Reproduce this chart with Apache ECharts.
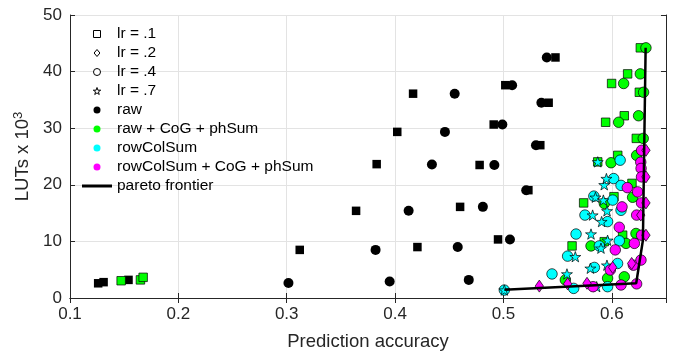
<!DOCTYPE html>
<html>
<head>
<meta charset="utf-8">
<script src="https://cdn.jsdelivr.net/npm/echarts@6/dist/echarts.min.js"></script>
<style>
  html, body { margin: 0; padding: 0; background: #fff; }
  #chart { width: 681px; height: 360px; }
</style>
</head>
<body>
<div id="chart"></div>
<script>
// accuracy vs LUTs, one array per feature set / learning rate

const rawSquare = [[0.126, 2.6], [0.131, 2.8], [0.154, 3.2], [0.312, 8.5], [0.364, 15.4], [0.383, 23.65], [0.402, 29.35], [0.4166, 36.1], [0.4206, 9.0], [0.460, 16.1], [0.478, 23.5], [0.491, 30.65], [0.495, 10.35], [0.5017, 37.6], [0.523, 19.05], [0.534, 27.0], [0.5417, 34.5], [0.548, 42.5]];
const rawCircle = [[0.3016, 2.65], [0.382, 8.5], [0.395, 2.9], [0.4125, 15.4], [0.434, 23.6], [0.446, 29.35], [0.455, 36.1], [0.4578, 9.0], [0.468, 3.2], [0.481, 16.1], [0.4916, 23.5], [0.499, 30.65], [0.506, 10.35], [0.508, 37.6], [0.521, 19.05], [0.530, 27.0], [0.535, 34.5], [0.540, 42.5]];

const cogSquare = [[0.1472, 3.05], [0.165, 3.2], [0.1675, 3.65], [0.5633, 9.2], [0.574, 16.8], [0.587, 24.05], [0.593, 9.95], [0.5943, 31.05], [0.5998, 37.9], [0.602, 17.9], [0.6055, 25.2], [0.610, 11.1], [0.6115, 32.2], [0.6146, 39.6], [0.6186, 20.25], [0.6226, 28.2], [0.6254, 36.35], [0.6263, 44.2]];
const cogCircle = [[0.5571, 3.2], [0.5808, 9.2], [0.5931, 16.7], [0.5961, 3.5], [0.5993, 23.9], [0.6063, 31.05], [0.6109, 37.9], [0.6115, 3.75], [0.6131, 9.65], [0.6192, 17.8], [0.6223, 11.4], [0.6229, 25.2], [0.6247, 32.2], [0.6263, 39.6], [0.629, 28.2], [0.6293, 36.35], [0.6315, 44.2]];

const rcsCircle = [[0.5008, 1.4], [0.5448, 4.25], [0.5592, 7.4], [0.5648, 1.7], [0.567, 11.3], [0.5752, 14.65], [0.5834, 18.0], [0.5839, 5.4], [0.5885, 9.2], [0.5961, 13.5], [0.5961, 2.0], [0.6008, 17.3], [0.6017, 21.1], [0.6053, 6.1], [0.6069, 10.1], [0.6077, 24.35], [0.6085, 19.9], [0.6085, 15.5]];
const rcsStar = [[0.5008, 1.4], [0.5586, 4.25], [0.5663, 7.3], [0.5802, 5.25], [0.5808, 11.3], [0.5823, 14.65], [0.5849, 17.8], [0.586, 2.0], [0.587, 24.05], [0.590, 8.8], [0.5906, 13.5], [0.5922, 17.3], [0.593, 20.0], [0.595, 21.1], [0.5955, 5.8], [0.5956, 15.4], [0.5961, 10.2]];

const allCircle = [[0.5827, 2.0], [0.5986, 4.95], [0.6032, 8.5], [0.6069, 12.5], [0.6085, 2.3], [0.6094, 16.1], [0.6143, 19.5], [0.6199, 5.8], [0.6208, 9.65], [0.6229, 2.5], [0.6229, 14.65], [0.6238, 18.75], [0.6267, 24.0], [0.6269, 6.7], [0.627, 22.9], [0.6274, 21.4], [0.6274, 16.8], [0.6274, 11.1], [0.6275, 26.1]];
const allDiamond = [[0.5331, 2.1], [0.5592, 2.5], [0.5771, 2.6], [0.6008, 5.4], [0.6183, 6.1], [0.6267, 14.65], [0.6315, 11.1], [0.6315, 16.8], [0.6315, 21.4], [0.6315, 26.1]];

const pareto = [[0.5008, 1.45], [0.6225, 2.6], [0.6287, 10.2], [0.6312, 44.2]];

const lrNames = ['lr = .1', 'lr = .2', 'lr = .4', 'lr = .7'];
const featNames = ['raw', 'raw + CoG + phSum', 'rowColSum', 'rowColSum + CoG + phSum'];
const featColors = ['#000000', '#00ff00', '#00ffff', '#ff00ff'];

const SQUARE = 'path://M0,0H10V10H0Z';
const DIAMOND = 'path://M5,0L10,6L5,12L0,6Z';
const STAR = 'path://M50,0L61.8,35.1L98.1,35.1L68.8,56.7L79.4,91L50,70L20.6,91L31.2,56.7L1.9,35.1L38.2,35.1Z';
const LINE = 'path://M0,0H30V3H0Z';
const lrIcons = [SQUARE, DIAMOND, 'circle', STAR];

const txt = '#262626';
const font = 'Liberation Sans, Arial, sans-serif';

function dots(name, data, symbol, size, color, edge) {
    return {
        name: name,
        type: 'scatter',
        data: data,
        symbol: symbol,
        symbolSize: size,
        symbolKeepAspect: true,
        itemStyle: {
            color: color,
            borderColor: edge ? '#000' : color,
            borderWidth: edge ? 0.7 : 0,
            opacity: 1
        },
        emphasis: { disabled: true }
    };
}

var series = [];
// legend-only entries
lrIcons.forEach(function (ic, i) {
    series.push(dots(lrNames[i], [], ic, 7, '#fff', true));
});
featNames.forEach(function (n, i) {
    series.push(dots(n, [], 'circle', 7, featColors[i], false));
});

series.push(dots('raw .1', rawSquare, SQUARE, 8.5, '#000', false));
series.push(dots('raw .4', rawCircle, 'circle', 10, '#000', false));
series.push(dots('cog .1', cogSquare, SQUARE, 8.5, '#00ff00', true));
series.push(dots('cog .4', cogCircle, 'circle', 10.5, '#00ff00', true));
series.push(dots('rcs .4', rcsCircle, 'circle', 10.5, '#00ffff', true));
series.push(dots('rcs .7', rcsStar, STAR, 11, '#00ffff', true));
series.push(dots('all .4', allCircle, 'circle', 10.5, '#ff00ff', true));
series.push(dots('all .2', allDiamond, DIAMOND, [10, 12], '#ff00ff', true));

series.push({
    name: 'pareto frontier',
    type: 'line',
    data: pareto,
    symbol: 'none',
    lineStyle: { color: '#000', width: 2.5 },
    itemStyle: { color: '#000' },
    z: 5
});

var legendData = [];
lrIcons.forEach(function (ic, i) {
    legendData.push({ name: lrNames[i], icon: ic, itemStyle: { color: '#fff', borderColor: '#000', borderWidth: 1 } });
});
featNames.forEach(function (n, i) {
    legendData.push({ name: n, icon: 'circle', itemStyle: { color: featColors[i], borderWidth: 0 } });
});
legendData.push({ name: 'pareto frontier', icon: LINE, itemStyle: { color: '#000', borderWidth: 0 } });

const chart = echarts.init(document.getElementById('chart'), null, { renderer: 'canvas' });

var option = {
    animation: false,
    backgroundColor: '#fff',
    textStyle: { fontFamily: font },
    grid: { left: 70, right: 15, top: 15, bottom: 62 },
    legend: {
        data: legendData,
        orient: 'vertical',
        left: 82,
        top: 26,
        padding: 0,
        itemWidth: 30,
        itemHeight: 7,
        itemGap: 3,
        selectedMode: false,
        textStyle: { fontSize: 15.5, lineHeight: 16, color: '#000', fontFamily: font }
    },
    xAxis: [
        {
            type: 'value',
            min: 0.1,
            max: 0.65,
            interval: 0.1,
            position: 'bottom',
            name: 'Prediction accuracy',
            nameLocation: 'middle',
            nameGap: 34,
            nameTextStyle: { fontSize: 18.5, color: txt },
            axisLine: { lineStyle: { color: txt, width: 1 } },
            axisTick: { inside: true, length: 5, lineStyle: { color: txt } },
            axisLabel: {
                fontSize: 17,
                color: txt,
                margin: 8,
                showMaxLabel: false,
                formatter: function (v) { return v.toFixed(1); }
            },
            splitLine: { show: true, lineStyle: { color: '#e3e3e3', width: 1 } }
        },
        {
            type: 'value',
            min: 0.1,
            max: 0.65,
            interval: 0.1,
            position: 'top',
            axisLine: { lineStyle: { color: txt, width: 1 } },
            axisTick: { inside: true, length: 5, lineStyle: { color: txt } },
            axisLabel: { show: false },
            splitLine: { show: false }
        }
    ],
    yAxis: [
        {
            type: 'value',
            min: 0,
            max: 50,
            interval: 10,
            position: 'left',
            name: 'LUTs x 10{sup|3}',
            nameLocation: 'middle',
            nameGap: 33,
            nameRotate: 90,
            nameTextStyle: {
                fontSize: 18.5,
                color: txt,
                rich: { sup: { fontSize: 13, color: txt, padding: [0, 0, 9, 0] } }
            },
            axisLine: { show: true, lineStyle: { color: txt, width: 1 } },
            axisTick: { show: true, inside: true, length: 5, lineStyle: { color: txt } },
            axisLabel: { fontSize: 17, color: txt, margin: 8 },
            splitLine: { show: true, lineStyle: { color: '#e3e3e3', width: 1 } }
        },
        {
            type: 'value',
            min: 0,
            max: 50,
            interval: 10,
            position: 'right',
            axisLine: { show: true, lineStyle: { color: txt, width: 1 } },
            axisTick: { show: true, inside: true, length: 5, lineStyle: { color: txt } },
            axisLabel: { show: false },
            splitLine: { show: false }
        }
    ],
    series: series
};

chart.setOption(option);
</script>
</body>
</html>
